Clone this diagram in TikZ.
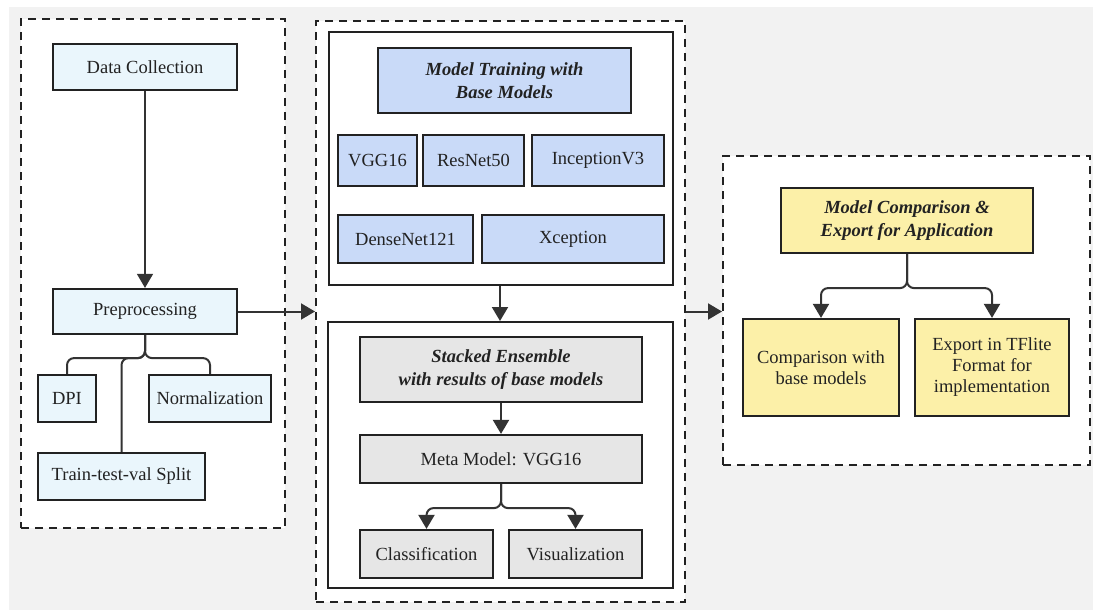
\documentclass[tikz,border=0pt]{standalone}
\usepackage{fontspec}
\setmainfont{Liberation Serif}
\usetikzlibrary{arrows.meta}
\definecolor{bggray}{HTML}{F2F2F2}
\definecolor{lblue}{HTML}{EAF6FC}
\definecolor{mblue}{HTML}{C9DAF8}
\definecolor{lgray}{HTML}{E6E6E6}
\definecolor{lyellow}{HTML}{FCF0A8}
\definecolor{ink}{HTML}{222222}
\definecolor{wire}{HTML}{333333}
\tikzset{
  panel/.style={draw=ink, line width=2pt, dash pattern=on 8pt off 6pt, fill=white, inner sep=0pt},
  inbox/.style={draw=ink, line width=2pt, fill=white, inner sep=0pt},
  box/.style={draw=ink, line width=2.2pt, inner sep=0pt, align=center, text=ink,
    font=\fontsize{18.5}{21}\selectfont},
  bluebox/.style={box, fill=lblue},
  modelbox/.style={box, fill=mblue},
  graybox/.style={box, fill=lgray},
  yelbox/.style={box, fill=lyellow},
  hdr/.style={font=\fontsize{18.5}{22.5}\selectfont\bfseries\itshape},
  conn/.style={draw=wire, line width=2pt, rounded corners=7pt},
  arr/.style={draw=wire, line width=2pt, rounded corners=7pt, -{Triangle[length=14pt,width=16pt]}},
  thinarr/.style={draw=wire, line width=1.3pt, -{Triangle[length=14pt,width=16pt]}}
}
\begin{document}
\begin{tikzpicture}[x=1pt,y=-1pt]
\useasboundingbox (0,0) rectangle (1093,610);
\fill[white] (0,0) rectangle (1093,610);
\fill[bggray] (9,7) rectangle (1093,610);

% panels
\node[panel, minimum width=264pt, minimum height=509pt] (lp) at (153,273.5) {};
\node[panel, minimum width=369pt, minimum height=581pt] (mp) at (500.5,311.5) {};
\node[panel, minimum width=367pt, minimum height=309pt] (rp) at (906.5,310.5) {};

% inner boxes of the middle panel
\node[inbox, minimum width=344pt, minimum height=253pt] (ub) at (501,158.5) {};
\node[inbox, minimum width=345pt, minimum height=266pt] (lb) at (500.5,455) {};

% left panel
\node[bluebox, minimum width=184pt, minimum height=46pt] (dc) at (145,67) {Data Collection};
\node[bluebox, minimum width=184pt, minimum height=45pt] (pre) at (145,311.5) {Preprocessing};
\node[bluebox, minimum width=58pt, minimum height=47pt] (dpi) at (67,398.5) {DPI};
\node[bluebox, minimum width=122pt, minimum height=47pt] (norm) at (210,398.5) {Normalization};
\node[bluebox, minimum width=167pt, minimum height=47pt] (tts) at (121.5,476.5) {Train-test-val Split};

% middle upper
\node[modelbox, hdr, minimum width=253pt, minimum height=65pt] (mt) at (504.5,80.5) {Model Training with\\Base Models};
\node[modelbox, minimum width=79pt, minimum height=51pt] (vgg) at (377.5,160.5) {VGG16};
\node[modelbox, minimum width=101pt, minimum height=51pt] (res) at (473.5,160.5) {ResNet50};
\node[modelbox, minimum width=132pt, minimum height=51pt] (inc) at (598,160.5) {InceptionV3};
\node[modelbox, minimum width=135pt, minimum height=48pt] (den) at (405.5,239) {DenseNet121};
\node[modelbox, minimum width=182pt, minimum height=48pt] (xce) at (573,239) {Xception};

% middle lower
\node[graybox, hdr, minimum width=282pt, minimum height=65pt] (se) at (501,369.5) {Stacked Ensemble\\with results of base models};
\node[graybox, minimum width=282pt, minimum height=48pt] (mm) at (501,459) {Meta Model: VGG16};
\node[graybox, minimum width=133pt, minimum height=48pt] (cl) at (426.5,554) {Classification};
\node[graybox, minimum width=133pt, minimum height=48pt] (vi) at (575.5,554) {Visualization};

% right panel
\node[yelbox, hdr, minimum width=252pt, minimum height=65pt] (mc) at (907,220.5) {Model Comparison \&\\Export for Application};
\node[yelbox, minimum width=156pt, minimum height=97pt] (cw) at (821,367.5) {Comparison with\\base models};
\node[yelbox, minimum width=154pt, minimum height=97pt] (ex) at (992,367.5) {Export in TFlite\\Format for\\implementation};

% connectors
\draw[thinarr] (dc.south) -- (pre.north);
\draw[arr] (pre.east) -- (pre.east -| mp.west);
\draw[conn] (pre.south) -- ++(0,23) -| (dpi.north);
\draw[conn] (pre.south) -- ++(0,23) -| (norm.north);
\draw[conn] (pre.south) -- ++(0,23) -| (tts.north);

\draw[arr] (ub.south -| 500,0) -- (lb.north -| 500,0);
\draw[arr] (se.south) -- (mm.north);
\draw[arr] (mm.south) -- ++(0,24) -| (cl.north);
\draw[arr] (mm.south) -- ++(0,24) -| (vi.north);

\draw[arr] (mp.east) -- (mp.east -| rp.west);
\draw[arr] (mc.south) -- ++(0,34) -| (cw.north);
\draw[arr] (mc.south) -- ++(0,34) -| (ex.north);
\end{tikzpicture}
\end{document}
